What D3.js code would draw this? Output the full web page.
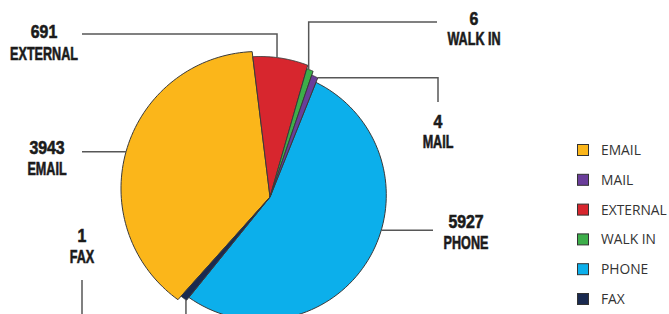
<!DOCTYPE html>
<html>
<head>
<meta charset="utf-8">
<script src="https://cdn.jsdelivr.net/npm/d3@7/dist/d3.min.js"></script>
<style>
  html, body { margin: 0; padding: 0; background: #ffffff; }
  svg { display: block; }
</style>
</head>
<body>
<svg id="chart" width="669" height="314"></svg>
<script>
// ---- data ----
const categories = ["EXTERNAL", "WALK IN", "MAIL", "PHONE", "FAX", "EMAIL"];
const values = [691, 6, 4, 5927, 1, 3943];
const legendOrder = ["EMAIL", "MAIL", "EXTERNAL", "WALK IN", "PHONE", "FAX"];

// ---- styles ----
const colors = {
  "EMAIL": "#FBB61A", "MAIL": "#6A3D9A", "EXTERNAL": "#D7262E",
  "WALK IN": "#3DAE4A", "PHONE": "#0CAFEB", "FAX": "#1A2A50"
};
// outer outline of each slice: circle centre offset from apex and radius
const geom = {
  "EMAIL":    { dx: -12, dy: -8.5, r: 137 },
  "EXTERNAL": { dx: -10, dy: -6,   r: 134.5 },
  "WALK IN":  { dx: -10, dy: -6,   r: 131 },
  "MAIL":     { dx: -10, dy: -6,   r: 127 },
  "PHONE":    { dx: -9,  dy: -2,   r: 125.3 },
  "FAX":      { dx: -9,  dy: -2,   r: 129 }
};
const apex = { x: 270, y: 197 };
const deg = Math.PI / 180;
const start = -7 * deg;
const minAngleDeg = 3;

const svg = d3.select("#chart");
const data = categories.map((c, i) => ({ cat: c, value: values[i] }));
const total = d3.sum(values);
const minVal = total * minAngleDeg / 360;

const pie = d3.pie().sort(null)
  .value(d => Math.max(d.value, minVal))
  .startAngle(start).endAngle(start + 2 * Math.PI);
const arcs = pie(data);

function rad(theta, g) {
  const wx = -g.dx, wy = -g.dy;
  const ux = Math.sin(theta), uy = -Math.cos(theta);
  const b = wx * ux + wy * uy;
  const c = wx * wx + wy * wy - g.r * g.r;
  return -b + Math.sqrt(b * b - c);
}
function pointAt(theta, g) {
  const t = rad(theta, g);
  return [apex.x + Math.sin(theta) * t, apex.y - Math.cos(theta) * t];
}

const line = d3.lineRadial().angle(d => d[0]).radius(d => d[1]);
const gPie = svg.append("g").attr("transform", `translate(${apex.x},${apex.y})`);

// draw big slices first so thin ones show on top
const drawOrder = arcs.slice().sort((a, b) => (b.endAngle - b.startAngle) - (a.endAngle - a.startAngle));
drawOrder.forEach(a => {
  const g = geom[a.data.cat];
  const n = 80;
  const pts = [[a.startAngle, 0]];
  for (let i = 0; i <= n; i++) {
    const th = a.startAngle + (a.endAngle - a.startAngle) * i / n;
    pts.push([th, rad(th, g)]);
  }
  pts.push([a.endAngle, 0]);
  gPie.append("path")
    .attr("d", line(pts) + "Z")
    .attr("fill", colors[a.data.cat])
    .attr("stroke", "#3a3a3a")
    .attr("stroke-width", 1)
    .attr("stroke-linejoin", "miter");
});

// ---- labels with leader lines ----
const byCat = {};
arcs.forEach(a => byCat[a.data.cat] = a);
function anchor(cat, f) {
  const a = byCat[cat];
  return pointAt(a.startAngle + (a.endAngle - a.startAngle) * f, geom[cat]);
}
const labelSpec = [
  { cat: "EXTERNAL", x: 44,  y: [38, 60],   f: 0.43,
    path: p => [[82, 34], [p[0], 34], p] },
  { cat: "WALK IN",  x: 474, y: [25, 45],   f: 0.3,
    path: p => [[437, 22], [p[0], 22], p] },
  { cat: "MAIL",     x: 438, y: [128, 148], f: 0.95,
    path: p => [p, [438, p[1]], [438, 102]] },
  { cat: "EMAIL",    x: 47,  y: [154, 175], f: 0.5,
    path: p => [[82, p[1]], p] },
  { cat: "PHONE",    x: 466, y: [228, 249], f: 0.43,
    path: p => [p, [433, p[1]]] },
  { cat: "FAX",      x: 82,  y: [242, 263], f: 0.1,
    path: p => [p, [p[0], 340], [82, 340], [82, 280]] }
];
const lineGen = d3.line();
labelSpec.forEach(s => {
  const p = anchor(s.cat, s.f);
  svg.append("path")
    .attr("d", lineGen(s.path(p)))
    .attr("fill", "none")
    .attr("stroke", "#575757")
    .attr("stroke-width", 1.5);
  const v = values[categories.indexOf(s.cat)];
  [String(v), s.cat].forEach((txt, i) => {
    svg.append("text")
      .attr("transform", `translate(${s.x},${s.y[i]}) scale(${i === 0 ? 0.88 : 0.7},1)`)
      .attr("text-anchor", "middle")
      .attr("font-family", "'Liberation Sans', Arial, sans-serif")
      .attr("font-weight", "bold")
      .attr("font-size", 18)
      .attr("fill", "#1b1b1b")
      .attr("stroke", "#1b1b1b")
      .attr("stroke-width", 0.6)
      .text(txt);
  });
});

// ---- legend ----
const leg = svg.append("g");
legendOrder.forEach((c, i) => {
  const cy = 150 + i * 29.8;
  leg.append("rect")
    .attr("x", 577.5).attr("y", cy - 5.5)
    .attr("width", 11).attr("height", 11)
    .attr("fill", colors[c])
    .attr("stroke", "#333").attr("stroke-width", 1);
  leg.append("text")
    .attr("x", 601).attr("y", cy + 5)
    .attr("font-family", "'Open Sans', sans-serif")
    .attr("font-size", 13.8)
    .attr("fill", "#333")
    .text(c);
});
</script>
</body>
</html>
